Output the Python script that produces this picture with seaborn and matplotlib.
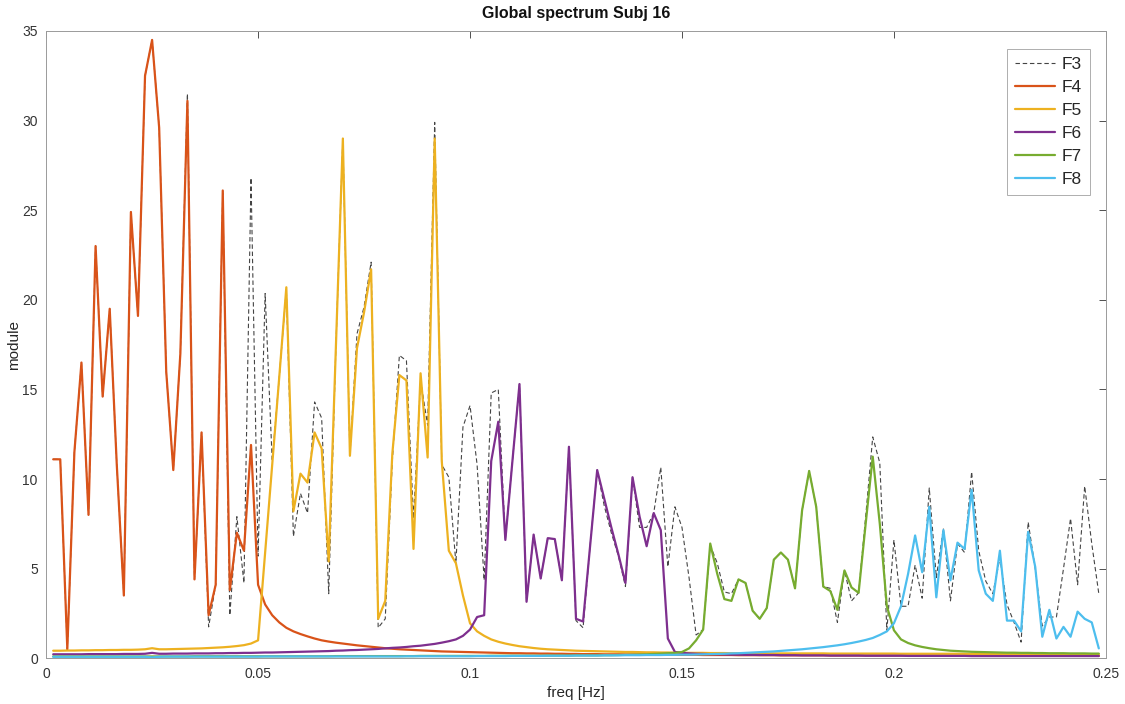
import numpy as np
import pandas as pd
import seaborn as sns
import matplotlib
matplotlib.use("Agg")
import matplotlib.pyplot as plt

# frequency bins (1/600 Hz resolution), k = 1..149
freq = np.arange(1, 150) / 600.0

# full spectrum
f3 = [11.1, 11.1, 0.5, 11.5, 16.5, 8.0, 23.0, 14.6, 19.5, 10.8,
      3.5, 24.9, 19.1, 32.5, 34.5, 29.6, 16.0, 10.5, 17.0, 31.5,
      4.4, 12.6, 1.75, 4.1, 26.1, 2.4, 7.9, 4.2, 26.8, 5.7,
      20.35, 11.0, 15.7, 20.6, 6.8, 9.2, 8.1, 14.3, 13.4, 3.6,
      17.2, 29.0, 11.3, 18.1, 19.6, 22.1, 1.7, 2.2, 11.0, 16.9,
      16.6, 7.8, 15.5, 13.0, 29.9, 10.8, 10.1, 5.3, 12.9, 14.1,
      10.8, 4.35, 14.8, 15.0, 6.6, 11.0, 15.3, 3.15, 6.9, 4.45,
      6.7, 6.65, 4.35, 11.8, 2.1, 1.7, 6.3, 10.5, 8.5, 7.0,
      5.7, 4.0, 10.1, 7.3, 7.3, 8.1, 10.65, 5.1, 8.45, 7.3,
      4.5, 1.3, 1.6, 6.3, 5.3, 3.7, 3.6, 4.4, 4.2, 2.65,
      2.2, 2.8, 5.5, 5.9, 5.5, 3.9, 8.25, 10.45, 8.45, 4.0,
      3.9, 2.0, 4.9, 3.2, 3.65, 7.9, 12.35, 10.9, 1.56, 6.6,
      2.9, 2.9, 5.2, 3.35, 9.5, 4.5, 7.25, 3.2, 6.4, 5.9,
      10.4, 6.0, 4.3, 3.6, 5.6, 3.0, 2.0, 0.9, 7.6, 5.0,
      1.8, 2.3, 2.3, 5.0, 7.8, 4.1, 9.6, 6.4, 3.6]

f4 = [11.1, 11.1, 0.5, 11.5, 16.5, 8.0, 23.0, 14.6, 19.5, 10.8,
      3.5, 24.9, 19.1, 32.5, 34.5, 29.6, 16.0, 10.5, 17.0, 31.1,
      4.4, 12.6, 2.4, 4.1, 26.1, 3.8, 7.0, 6.0, 11.9, 4.1,
      3.0, 2.4, 2.0, 1.7, 1.5, 1.35, 1.22, 1.1, 1.0, 0.93,
      0.87, 0.82, 0.77, 0.72, 0.68, 0.64, 0.6, 0.56, 0.53, 0.5,
      0.48, 0.46, 0.44, 0.42, 0.4, 0.38, 0.37, 0.36, 0.35, 0.34,
      0.33, 0.32, 0.31, 0.3, 0.29, 0.28, 0.28, 0.27, 0.27, 0.26,
      0.26, 0.25, 0.25, 0.24, 0.24, 0.23, 0.23, 0.23, 0.22, 0.22,
      0.22, 0.21, 0.21, 0.21, 0.2, 0.2, 0.2, 0.2, 0.19, 0.19,
      0.19, 0.19, 0.18, 0.18, 0.18, 0.18, 0.18, 0.17, 0.17, 0.17,
      0.17, 0.17, 0.17, 0.16, 0.16, 0.16, 0.16, 0.16, 0.16, 0.16,
      0.15, 0.15, 0.15, 0.15, 0.15, 0.15, 0.15, 0.15, 0.15, 0.15,
      0.15, 0.15, 0.15, 0.15, 0.15, 0.15, 0.15, 0.15, 0.15, 0.15,
      0.14, 0.14, 0.14, 0.14, 0.14, 0.14, 0.14, 0.14, 0.14, 0.14,
      0.14, 0.14, 0.14, 0.14, 0.14, 0.14, 0.14, 0.14, 0.14]

f5 = [0.42, 0.42, 0.43, 0.43, 0.44, 0.44, 0.45, 0.45, 0.46, 0.46,
      0.47, 0.47, 0.48, 0.5, 0.56, 0.5, 0.5, 0.51, 0.52, 0.53,
      0.54, 0.55, 0.57, 0.59, 0.61, 0.64, 0.68, 0.73, 0.82, 1.0,
      5.9, 10.8, 15.7, 20.7, 8.2, 10.3, 9.8, 12.6, 11.7, 5.4,
      17.2, 29.0, 11.3, 17.3, 19.3, 21.7, 2.2, 3.2, 11.4, 15.8,
      15.5, 6.1, 15.9, 11.2, 29.0, 11.0, 6.0, 5.3, 3.5, 1.95,
      1.5, 1.25, 1.05, 0.92, 0.82, 0.74, 0.67, 0.62, 0.57, 0.53,
      0.5, 0.48, 0.46, 0.44, 0.42, 0.41, 0.4, 0.39, 0.38, 0.37,
      0.36, 0.35, 0.35, 0.34, 0.33, 0.33, 0.32, 0.32, 0.31, 0.31,
      0.3, 0.3, 0.3, 0.29, 0.29, 0.29, 0.28, 0.28, 0.28, 0.28,
      0.27, 0.27, 0.27, 0.27, 0.27, 0.27, 0.27, 0.27, 0.27, 0.27,
      0.26, 0.26, 0.26, 0.26, 0.26, 0.26, 0.26, 0.26, 0.26, 0.26,
      0.25, 0.25, 0.25, 0.25, 0.25, 0.25, 0.25, 0.25, 0.25, 0.25,
      0.24, 0.24, 0.24, 0.24, 0.24, 0.24, 0.24, 0.24, 0.24, 0.24,
      0.23, 0.23, 0.23, 0.23, 0.23, 0.23, 0.23, 0.23, 0.23]

f6 = [0.22, 0.22, 0.22, 0.22, 0.22, 0.23, 0.23, 0.23, 0.23, 0.23,
      0.24, 0.24, 0.24, 0.25, 0.3, 0.25, 0.25, 0.26, 0.26, 0.26,
      0.27, 0.27, 0.27, 0.28, 0.28, 0.29, 0.29, 0.3, 0.3, 0.31,
      0.32, 0.32, 0.33, 0.34, 0.35, 0.36, 0.37, 0.38, 0.39, 0.4,
      0.42, 0.43, 0.45, 0.46, 0.48, 0.5, 0.52, 0.55, 0.58, 0.6,
      0.63, 0.67, 0.7, 0.75, 0.8, 0.87, 0.95, 1.05, 1.25, 1.6,
      2.3, 2.4, 11.0, 13.2, 6.6, 11.0, 15.3, 3.15, 6.9, 4.45,
      6.7, 6.65, 4.35, 11.8, 2.2, 2.05, 6.3, 10.5, 8.9, 7.3,
      5.8, 4.2, 10.1, 7.9, 6.25, 8.1, 7.15, 1.1, 0.35, 0.3,
      0.27, 0.25, 0.24, 0.23, 0.22, 0.21, 0.2, 0.2, 0.19, 0.19,
      0.18, 0.18, 0.18, 0.17, 0.17, 0.17, 0.16, 0.16, 0.16, 0.16,
      0.15, 0.15, 0.15, 0.15, 0.15, 0.14, 0.14, 0.14, 0.14, 0.14,
      0.14, 0.13, 0.13, 0.13, 0.13, 0.13, 0.13, 0.13, 0.13, 0.13,
      0.12, 0.12, 0.12, 0.12, 0.12, 0.12, 0.12, 0.12, 0.12, 0.12,
      0.12, 0.12, 0.12, 0.12, 0.12, 0.12, 0.12, 0.12, 0.12]

f7 = [0.1, 0.1, 0.1, 0.1, 0.1, 0.1, 0.1, 0.1, 0.1, 0.1,
      0.1, 0.1, 0.1, 0.1, 0.1, 0.1, 0.1, 0.1, 0.1, 0.1,
      0.11, 0.11, 0.11, 0.11, 0.11, 0.11, 0.11, 0.11, 0.11, 0.11,
      0.11, 0.11, 0.11, 0.11, 0.11, 0.11, 0.11, 0.11, 0.11, 0.11,
      0.12, 0.12, 0.12, 0.12, 0.12, 0.12, 0.12, 0.12, 0.12, 0.12,
      0.12, 0.12, 0.13, 0.13, 0.13, 0.13, 0.13, 0.13, 0.13, 0.13,
      0.13, 0.13, 0.14, 0.14, 0.14, 0.14, 0.14, 0.14, 0.14, 0.14,
      0.15, 0.15, 0.15, 0.15, 0.16, 0.16, 0.16, 0.16, 0.17, 0.17,
      0.18, 0.19, 0.2, 0.21, 0.22, 0.24, 0.26, 0.28, 0.3, 0.35,
      0.55, 1.0, 1.6, 6.4, 4.7, 3.3, 3.2, 4.4, 4.2, 2.65,
      2.2, 2.8, 5.5, 5.9, 5.5, 3.9, 8.25, 10.45, 8.45, 4.0,
      3.75, 2.7, 4.9, 3.95, 3.65, 7.5, 11.25, 7.5, 2.9, 1.56,
      1.05, 0.85, 0.72, 0.63, 0.56, 0.5, 0.46, 0.42, 0.4, 0.38,
      0.36, 0.35, 0.34, 0.33, 0.32, 0.31, 0.31, 0.3, 0.3, 0.29,
      0.29, 0.28, 0.28, 0.28, 0.27, 0.27, 0.27, 0.26, 0.26]

f8 = [0.08, 0.08, 0.08, 0.08, 0.08, 0.08, 0.08, 0.08, 0.08, 0.08,
      0.08, 0.08, 0.08, 0.08, 0.05, 0.08, 0.09, 0.09, 0.09, 0.09,
      0.09, 0.09, 0.09, 0.09, 0.09, 0.09, 0.09, 0.09, 0.09, 0.09,
      0.1, 0.1, 0.1, 0.1, 0.1, 0.1, 0.1, 0.1, 0.1, 0.1,
      0.1, 0.1, 0.1, 0.1, 0.1, 0.1, 0.1, 0.1, 0.1, 0.1,
      0.11, 0.11, 0.11, 0.11, 0.11, 0.11, 0.11, 0.11, 0.11, 0.11,
      0.12, 0.12, 0.12, 0.12, 0.12, 0.13, 0.13, 0.13, 0.13, 0.13,
      0.14, 0.14, 0.14, 0.14, 0.15, 0.15, 0.15, 0.15, 0.16, 0.16,
      0.16, 0.17, 0.17, 0.17, 0.18, 0.18, 0.18, 0.19, 0.19, 0.2,
      0.2, 0.21, 0.22, 0.23, 0.24, 0.25, 0.27, 0.28, 0.3, 0.32,
      0.34, 0.36, 0.38, 0.41, 0.44, 0.47, 0.5, 0.54, 0.58, 0.62,
      0.67, 0.72, 0.78, 0.85, 0.93, 1.02, 1.13, 1.3, 1.5, 1.95,
      2.9, 4.7, 6.85, 4.8, 8.45, 3.4, 7.15, 4.35, 6.45, 6.1,
      9.4, 4.9, 3.6, 3.2, 6.0, 2.1, 2.1, 1.5, 7.05, 5.1,
      1.2, 2.7, 1.1, 1.75, 1.2, 2.6, 2.2, 2.0, 0.55]

bands = ["F4", "F5", "F6", "F7", "F8"]
band_vals = [f4, f5, f6, f7, f8]
band_colors = ["#D95319", "#EDB120", "#7E2F8E", "#77AC30", "#4DBEEE"]

sns.set_style("white")
plt.rcParams["font.family"] = ["Liberation Sans", "DejaVu Sans"]

fig = plt.figure(figsize=(11.25, 7.04), dpi=100)
ax = fig.add_axes([0.041, 0.065, 0.942, 0.891])

sns.lineplot(x=freq, y=f3, ax=ax, color="#444444", lw=0.8,
             label="F3", linestyle=(0, (4, 2.5)))
for name, vals, col in zip(bands, band_vals, band_colors):
    sns.lineplot(x=freq, y=vals, ax=ax, color=col, lw=1.6, label=name)

ax.set_xlim(0, 0.25)
ax.set_ylim(0, 35)
ax.set_xticks([0, 0.05, 0.1, 0.15, 0.2, 0.25])
ax.set_xticklabels(["0", "0.05", "0.1", "0.15", "0.2", "0.25"])
ax.set_yticks(range(0, 36, 5))
ax.tick_params(direction="in", length=5, width=0.6, top=True, right=True,
               labelsize=10, colors="#333333", pad=6)
for s in ax.spines.values():
    s.set_color("#9a9a9a")
    s.set_linewidth(0.7)

ax.set_title("Global spectrum Subj 16", fontsize=11.5, fontweight="bold",
             pad=9, color="#111111")
ax.set_xlabel("freq [Hz]", fontsize=11, color="#262626", labelpad=4)
ax.set_ylabel("module", fontsize=11, color="#262626", labelpad=1)

leg = ax.legend(loc="upper right", fontsize=12.5, handlelength=2.3,
                handletextpad=0.4, borderpad=0.45, labelspacing=0.45,
                frameon=True, fancybox=False, bbox_to_anchor=(0.993, 0.985))
leg.get_frame().set_edgecolor("#9a9a9a")
leg.get_frame().set_linewidth(0.7)

fig.savefig("out.png", dpi=100, facecolor="white")
